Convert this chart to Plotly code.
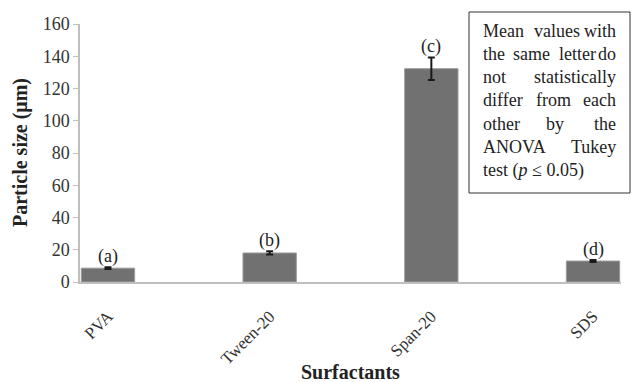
import plotly.graph_objects as go

# Data
surfactants = ["PVA", "Tween-20", "Span-20", "SDS"]
particle_size = [8.6, 18.0, 132.3, 13.0]
size_error = [0.6, 1.0, 7.0, 0.6]
group_letters = ["(a)", "(b)", "(c)", "(d)"]
y_ticks = [0, 20, 40, 60, 80, 100, 120, 140, 160]

W, H = 631, 382
ML, MR, MT, MB = 80, 10, 24, 100
PW, PH = W - ML - MR, H - MT - MB


def px(x):
    return (x - ML) / PW


def py(y):
    return (H - MB - y) / PH


SERIF = "Liberation Serif"

fig = go.Figure()
fig.add_trace(go.Bar(
    x=list(range(len(surfactants))),
    y=particle_size,
    width=0.33,
    marker=dict(color="#717171", line=dict(color="#9c9c9c", width=1)),
    error_y=dict(type="data", array=size_error, visible=True,
                 color="#1a1a1a", thickness=2, width=3.5),
    showlegend=False,
    hoverinfo="skip",
))

# significance letters over the bars
for i, (v, e, lab) in enumerate(zip(particle_size, size_error, group_letters)):
    fig.add_annotation(x=i, y=v + e, xref="x", yref="y", text=lab,
                       showarrow=False, yanchor="bottom", yshift=-2,
                       font=dict(family=SERIF, size=18, color="#222222"))

# axis titles
fig.add_annotation(x=px(20), y=py(153), xref="paper", yref="paper",
                   text="<b>Particle size (μm)</b>", textangle=-90,
                   showarrow=False, xanchor="center", yanchor="middle",
                   font=dict(family=SERIF, size=20, color="#222222"))
fig.add_annotation(x=px(350), y=py(372), xref="paper", yref="paper",
                   text="<b>Surfactants</b>", showarrow=False,
                   xanchor="center", yanchor="middle",
                   font=dict(family=SERIF, size=20, color="#222222"))

# note box
fig.add_shape(type="rect", xref="paper", yref="paper",
              x0=px(469), x1=px(630), y0=py(193), y1=py(12),
              line=dict(color="#333333", width=1), fillcolor="white")

box_left, box_right = 481, 618
note_lines = [
    (30.5, [("Mean", "l"), ("values", 557), ("with", "r")]),
    (54, [("the", "l"), ("same", 531), ("letter", 577), ("do", "r")]),
    (77, [("not", "l"), ("statistically", "r")]),
    (100.5, [("differ", "l"), ("from", 553), ("each", "r")]),
    (124, [("other", "l"), ("by", 555), ("the", "r")]),
    (147, [("ANOVA", "l"), ("Tukey", "r")]),
    (170, [("test (<i>p</i> ≤ 0.05)", "l")]),
]
for yy, words in note_lines:
    for w, pos in words:
        if pos == "l":
            xa, xx = "left", box_left
        elif pos == "r":
            xa, xx = "right", box_right
        else:
            xa, xx = "center", pos
        fig.add_annotation(x=px(xx), y=py(yy), xref="paper", yref="paper",
                           text=w, showarrow=False, xanchor=xa,
                           yanchor="middle",
                           font=dict(family=SERIF, size=18, color="#222222"))

fig.update_xaxes(
    range=[-0.173, 3.173],
    tickmode="array",
    tickvals=list(range(len(surfactants))),
    ticktext=surfactants,
    tickangle=-45,
    ticklabelstandoff=16,
    showline=True, linecolor="#bfbfbf", linewidth=1.5,
    ticks="", showgrid=False, zeroline=False,
    tickfont=dict(family=SERIF, size=17, color="#333333"),
)
fig.update_yaxes(
    range=[0, 160],
    tickvals=y_ticks,
    showline=True, linecolor="#bfbfbf", linewidth=1.5,
    ticks="outside", ticklen=5, tickcolor="#bfbfbf",
    showgrid=False, zeroline=False,
    tickfont=dict(family=SERIF, size=18, color="#333333"),
)
fig.update_layout(
    width=W, height=H,
    margin=dict(l=ML, r=MR, t=MT, b=MB, autoexpand=False),
    plot_bgcolor="white", paper_bgcolor="white",
)

fig.write_html("out.html")
